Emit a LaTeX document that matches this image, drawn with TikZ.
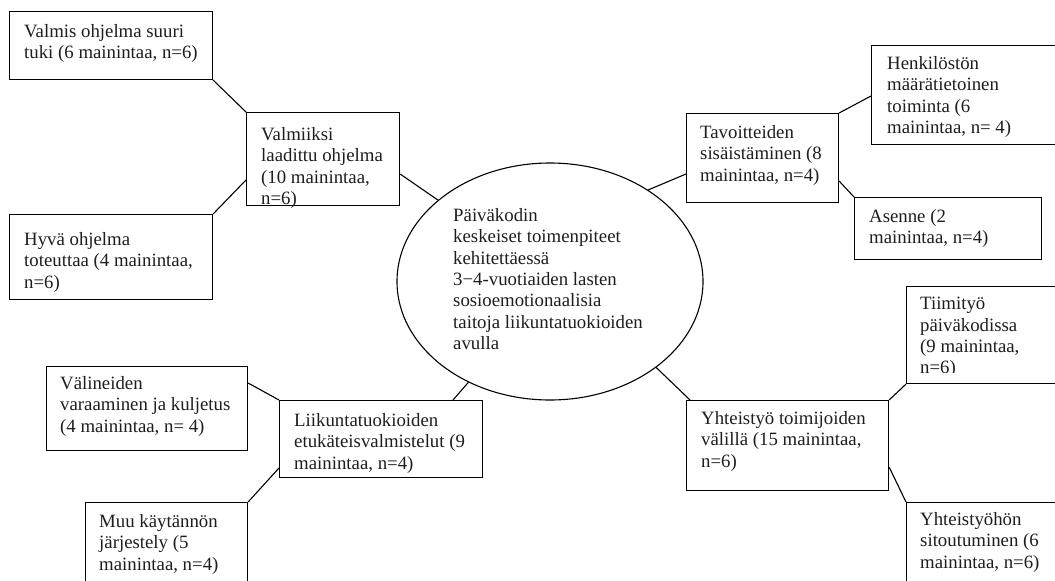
\documentclass[tikz,border=0pt]{standalone}
\usepackage{fontspec}
\setmainfont{Liberation Serif}
\usetikzlibrary{shapes.geometric,calc}
\definecolor{txtgray}{RGB}{30,30,30}
\tikzset{
  boxn/.style={draw=black, line width=1.1pt, rectangle, inner sep=0pt, anchor=north west},
  txtn/.style={anchor=north west, inner sep=0pt, align=left, text=txtgray,
    font=\fontsize{18.8}{21.4}\selectfont},
  link/.style={draw=black, line width=1.1pt}
}
\begin{document}
\begin{tikzpicture}[x=1pt,y=-1pt]
\useasboundingbox (0,0) rectangle (1055,581);
\fill[white] (0,0) rectangle (1055,581);
\clip (0,0) rectangle (1055,581);
% center ellipse
\node[draw=black, line width=1.1pt, ellipse, minimum width=306pt, minimum height=237pt, inner sep=0pt] (ell) at (550,281.5) {};
\node[txtn] (ellt) at (453,208) {Päiväkodin\\keskeiset toimenpiteet\\kehitettäessä\\3−4-vuotiaiden lasten\\sosioemotionaalisia\\taitoja liikuntatuokioiden\\avulla};
% top-left group
\node[boxn, minimum width=203pt, minimum height=68pt] (b1) at (9,11) {};
\node[txtn] (b1t) at (24,24) {Valmis ohjelma suuri\\tuki (6 mainintaa, n=6)};
\node[boxn, minimum width=153pt, minimum height=93pt] (b2) at (246,112) {};
\node[txtn] (b2t) at (261,127) {Valmiiksi\\laadittu ohjelma\\(10 mainintaa,\\n=6)};
\node[boxn, minimum width=203pt, minimum height=85pt] (b3) at (9,214) {};
\node[txtn] (b3t) at (24,232) {Hyvä ohjelma\\toteuttaa (4 mainintaa,\\n=6)};
% top-right group
\node[boxn, minimum width=152pt, minimum height=89pt] (b5) at (686,113) {};
\node[txtn] (b5t) at (700,125) {Tavoitteiden\\sisäistäminen (8\\mainintaa, n=4)};
\node[boxn, minimum width=200pt, minimum height=99pt] (b6) at (871,45) {};
\node[txtn] (b6t) at (887,56) {Henkilöstön\\määrätietoinen\\toiminta (6\\mainintaa, n= 4)};
\node[boxn, minimum width=187pt, minimum height=62pt] (b7) at (854,197) {};
\node[txtn] (b7t) at (869,209) {Asenne (2\\mainintaa, n=4)};
% bottom-left group
\node[boxn, minimum width=201pt, minimum height=84pt] (b8) at (46,366) {};
\node[txtn] (b8t) at (60,376) {Välineiden\\varaaminen ja kuljetus\\(4 mainintaa, n= 4)};
\node[boxn, minimum width=203pt, minimum height=77pt] (b9) at (279,400) {};
\node[txtn] (b9t) at (294,413) {Liikuntatuokioiden\\etukäteisvalmistelut (9\\mainintaa, n=4)};
\node[boxn, minimum width=162pt, minimum height=100pt] (b10) at (85,502) {};
\node[txtn] (b10t) at (99,514) {Muu käytännön\\järjestely (5\\mainintaa, n=4)};
% bottom-right group
\node[boxn, minimum width=170pt, minimum height=97pt] (b11) at (906,286) {};
\begin{scope}
\clip (906,286) rectangle (1055,372);
\node[txtn] (b11t) at (920,297) {Tiimityö\\päiväkodissa\\(9 mainintaa,\\n=6)};
\end{scope}
\node[boxn, minimum width=202pt, minimum height=90pt] (b12) at (686,400) {};
\node[txtn] (b12t) at (701,411) {Yhteistyö toimijoiden\\välillä (15 mainintaa,\\n=6)};
\node[boxn, minimum width=170pt, minimum height=100pt] (b13) at (906,502) {};
\node[txtn] (b13t) at (920,512) {Yhteistyöhön\\sitoutuminen (6\\mainintaa, n=6)};
% connectors
\draw[link] (b1.south east) -- (b2.north west);
\draw[link] (b3.north east) -- ($(b2.north west)+(0,68)$);
\draw[link] ($(b2.north east)+(0,62)$) -- (ell.144.8);
\draw[link] ($(b5.north west)+(0,61)$) -- (ell.43.6);
\draw[link] (b5.north east) -- ($(b6.north west)+(0,51)$);
\draw[link] ($(b5.north east)+(0,68)$) -- (b7.north west);
\draw[link] ($(b8.north east)+(0,17)$) -- (b9.north west);
\draw[link] ($(b9.north west)+(0,68)$) -- (b10.north east);
\draw[link] ($(b9.north west)+(174,0)$) -- (ell.231.8);
\draw[link] ($(b12.north west)+(4,0)$) -- (ell.321.4);
\draw[link] (b12.north east) -- (b11.south west);
\draw[link] ($(b12.north east)+(0,67)$) -- (b13.north west);
\end{tikzpicture}
\end{document}
